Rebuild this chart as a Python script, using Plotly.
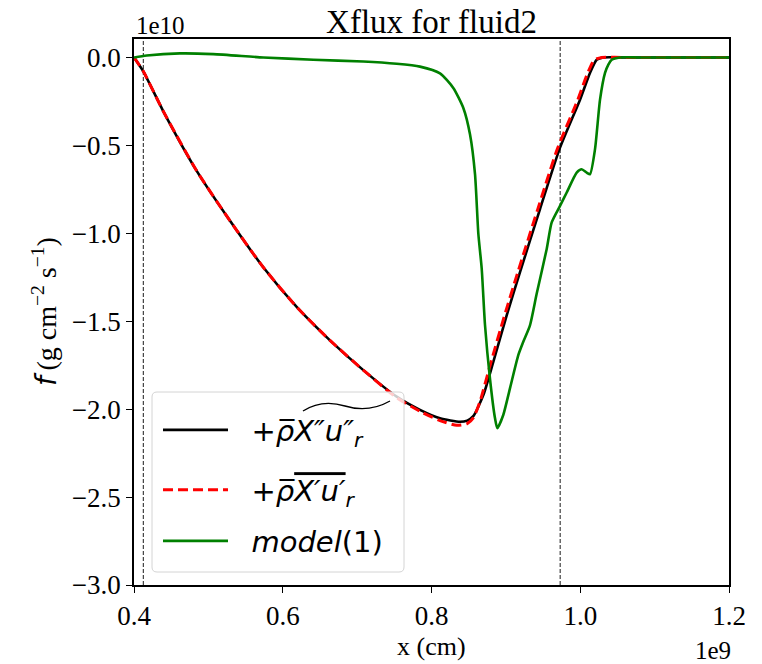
import plotly.graph_objects as go

# ---- data (x in units of 1e9 cm, flux in units of 1e10) ----
black_x = [0.400, 0.4125, 0.4394, 0.4843, 0.5291, 0.5738, 0.6187, 0.6635, 0.7083, 0.7532,
           0.7845, 0.8114, 0.8383, 0.8480, 0.8562, 0.8697, 0.8831, 0.9011, 0.9190, 0.9459,
           0.9728, 0.9997, 1.0131, 1.0221, 1.0310, 1.0600, 1.2000]
black_y = [0.0, -0.079, -0.306, -0.645, -0.929, -1.193, -1.419, -1.609, -1.778, -1.929,
           -2.004, -2.052, -2.072, -2.065, -2.040, -1.920, -1.731, -1.467, -1.221, -0.862,
           -0.513, -0.240, -0.088, -0.013, 0.0, 0.0, 0.0]

red_x = [0.400, 0.4125, 0.4394, 0.4843, 0.5291, 0.5738, 0.6187, 0.6635, 0.7083, 0.7532,
         0.7845, 0.8114, 0.8339, 0.8480, 0.8562, 0.8650, 0.8795, 0.8977, 0.9156, 0.9425,
         0.9694, 0.9963, 1.0097, 1.0187, 1.0290, 1.0600, 1.2000]
red_y = [0.0, -0.079, -0.306, -0.645, -0.929, -1.193, -1.419, -1.609, -1.778, -1.935,
         -2.012, -2.065, -2.092, -2.082, -2.050, -1.960, -1.740, -1.475, -1.228, -0.868,
         -0.518, -0.245, -0.092, -0.015, 0.0, 0.0, 0.0]

green_x = [0.400, 0.4171, 0.4618, 0.5066, 0.5739, 0.6411, 0.7083, 0.7532, 0.7845,
           0.8114, 0.8293, 0.8428, 0.8518, 0.8585, 0.8630, 0.8675, 0.8719, 0.8787, 0.8854,
           0.8885, 0.8965, 0.9055, 0.9167, 0.9234, 0.9324, 0.9414, 0.9549, 0.9616, 0.9728,
           0.9818, 0.9952, 1.0019, 1.0087, 1.0131, 1.0198, 1.0266, 1.0333, 1.0378, 1.0423,
           1.0534, 1.0800, 1.2000]
green_y = [0.0, 0.011, 0.023, 0.019, 0.0, -0.013, -0.023, -0.036, -0.052,
           -0.090, -0.173, -0.287, -0.438, -0.664, -1.004, -1.200, -1.520, -1.830, -2.052,
           -2.108, -2.033, -1.882, -1.693, -1.617, -1.523, -1.344, -1.089, -0.938, -0.844,
           -0.768, -0.655, -0.636, -0.655, -0.664, -0.523, -0.240, -0.088, -0.041, -0.013,
           0.0, 0.0, 0.0]

boundary_x = [0.4125, 0.973]
x_ticks = [0.4, 0.6, 0.8, 1.0, 1.2]
y_ticks = [0.0, -0.5, -1.0, -1.5, -2.0, -2.5, -3.0]
x_range = [0.4, 1.2]
y_range = [-3.0, 0.105]

pad = "\u00a0\u00a0"
names = [
    pad + "+<i>\u03c1\u0305X\u2033u\u2033<sub>r</sub></i>",
    pad + "+<i>\u03c1\u0305<span style='text-decoration:overline'>X\u2032u\u2032</span><sub>r</sub></i>",
    pad + "<i>model</i>(1)",
]

serif = "Liberation Serif"
sans = "DejaVu Sans"

# figure geometry helpers (plot area in px) for legend decoration
W, H = 762, 664
L, R, T, B = 134, 33, 39, 79
pw, ph = W - L - R, H - T - B


def px(x):
    return (x - L) / pw


def py(y):
    return (H - B - y) / ph


fig = go.Figure()
fig.add_trace(go.Scatter(x=black_x, y=black_y, mode="lines", name=names[0],
                         line=dict(color="black", width=2.6, shape="spline", smoothing=0.6),
                         legend="legend"))
fig.add_trace(go.Scatter(x=red_x, y=red_y, mode="lines", name=names[1],
                         line=dict(color="red", width=3, dash="10px,5px", shape="spline", smoothing=0.6),
                         legend="legend2"))
fig.add_trace(go.Scatter(x=green_x, y=green_y, mode="lines", name=names[2],
                         line=dict(color="green", width=2.6, shape="spline", smoothing=0.6),
                         legend="legend3"))

for xv in boundary_x:
    fig.add_vline(x=xv, line=dict(color="black", width=0.9, dash="4px,2px"), layer="below")

axis_common = dict(showline=True, mirror=True, linecolor="black", linewidth=1.8,
                   ticks="outside", ticklen=6, tickwidth=1.2, tickcolor="black",
                   showgrid=False, zeroline=False,
                   tickfont=dict(family=serif, size=27, color="black"))

fig.update_xaxes(range=x_range, tickvals=x_ticks, tickformat=".1f", **axis_common)
fig.update_yaxes(range=y_range, tickvals=y_ticks, tickformat=".1f", **axis_common)

leg_common = dict(xanchor="left", yanchor="middle", x=px(158),
                  bgcolor="rgba(0,0,0,0)", borderwidth=0, itemwidth=65,
                  font=dict(family=sans, size=29, color="black"))

fig.update_layout(
    width=W, height=H,
    margin=dict(l=L, r=R, t=T, b=B, autoexpand=False),
    paper_bgcolor="white", plot_bgcolor="white",
    font=dict(family=serif, color="black"),
    title=dict(text="Xflux for fluid2", x=0.5, xref="paper", xanchor="center",
               y=1 - 21 / H, yref="container", yanchor="middle",
               font=dict(family=serif, size=33, color="black")),
    legend=dict(y=py(430), **leg_common),
    legend2=dict(y=py(490), **leg_common),
    legend3=dict(y=py(541), **leg_common),
    showlegend=True,
)

# legend frame (rounded, semi-transparent like matplotlib)
x0, x1, y0, y1 = px(152), px(404), py(572), py(392)
rx, ry = 5 / pw, 5 / ph
frame = (f"M {x0+rx},{y1} L {x1-rx},{y1} Q {x1},{y1} {x1},{y1-ry} "
         f"L {x1},{y0+ry} Q {x1},{y0} {x1-rx},{y0} L {x0+rx},{y0} "
         f"Q {x0},{y0} {x0},{y0+ry} L {x0},{y1-ry} Q {x0},{y1} {x0+rx},{y1} Z")
fig.add_shape(type="path", path=frame, xref="paper", yref="paper", layer="above",
              fillcolor="rgba(255,255,255,0.8)", line=dict(color="#d4d4d4", width=1))
# wide tilde accent over the first legend label
tilde = (f"M {px(303)},{py(411)} C {px(317)},{py(402)} {px(332)},{py(402)} {px(345)},{py(406)} "
         f"C {px(358)},{py(410)} {px(374)},{py(410)} {px(390)},{py(401)}")
fig.add_shape(type="path", path=tilde, xref="paper", yref="paper", layer="above",
              line=dict(color="black", width=1.4))

fig.add_annotation(text="1e10", xref="paper", yref="paper", x=0, y=1, xanchor="left",
                   yanchor="bottom", showarrow=False, yshift=-2,
                   font=dict(family=serif, size=25, color="black"))
fig.add_annotation(text="1e9", xref="paper", yref="paper", x=1, y=0, xanchor="right",
                   yanchor="middle", showarrow=False, yshift=-65, xshift=4,
                   font=dict(family=serif, size=25, color="black"))
fig.add_annotation(text="x (cm)", xref="paper", yref="paper", x=0.5, y=0, xanchor="center",
                   yanchor="middle", showarrow=False, yshift=-61,
                   font=dict(family=serif, size=26, color="black"))
fig.add_annotation(text="<span style='font-family:DejaVu Sans'><i>f</i></span>\u2009(g cm<sup>\u22122</sup> s<sup>\u22121</sup>)",
                   xref="paper", yref="paper", x=0, y=0.5, xanchor="center",
                   yanchor="middle", showarrow=False, xshift=-89, textangle=-90,
                   font=dict(family=serif, size=28, color="black"))

fig.write_html("out.html")
